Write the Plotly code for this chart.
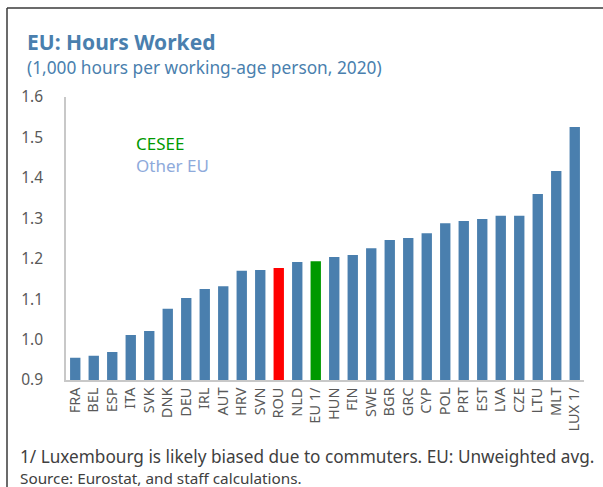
import plotly.graph_objects as go

countries = ["FRA", "BEL", "ESP", "ITA", "SVK", "DNK", "DEU", "IRL", "AUT", "HRV",
             "SVN", "ROU", "NLD", "EU 1/", "HUN", "FIN", "SWE", "BGR", "GRC", "CYP",
             "POL", "PRT", "EST", "LVA", "CZE", "LTU", "MLT", "LUX 1/"]
hours = [0.955, 0.960, 0.969, 1.011, 1.021, 1.076, 1.103, 1.125, 1.132, 1.170,
         1.172, 1.177, 1.192, 1.194, 1.204, 1.209, 1.226, 1.246, 1.251, 1.263,
         1.288, 1.293, 1.298, 1.306, 1.306, 1.360, 1.417, 1.526]
y_ticks = [0.9, 1.0, 1.1, 1.2, 1.3, 1.4, 1.5, 1.6]

BLUE = "#4a7fae"
colors = [BLUE] * len(countries)
colors[countries.index("ROU")] = "#ff0000"
colors[countries.index("EU 1/")] = "#009900"

W, H = 603, 487
L, R, T, B = 66, 584, 97, 380

def px(x):
    return (x - L) / (R - L)

def py(y):
    return (B - y) / (B - T)

FONT = "Noto Sans"

fig = go.Figure(go.Bar(x=countries, y=hours, marker=dict(color=colors, line=dict(width=0)),
                       width=0.56))

fig.update_layout(
    width=W, height=H,
    margin=dict(l=L, r=W - R, t=T, b=H - B, pad=0),
    paper_bgcolor="white", plot_bgcolor="white",
    font=dict(family=FONT, color="#595959", size=14),
    showlegend=False,
    bargap=0.44,
)
fig.update_yaxes(range=[0.9, 1.6], tickvals=y_ticks, ticktext=[f"{v:.1f}" for v in y_ticks],
                 showgrid=False, zeroline=False, showline=True, linecolor="#c8c8c8",
                 linewidth=1.5, ticks="", ticklabelstandoff=18,
                 tickfont=dict(size=15.5, color="#595959"))
fig.update_xaxes(showgrid=False, showline=True, linecolor="#c8c8c8", linewidth=1.5,
                 ticks="", tickangle=-90, tickfont=dict(size=14.5, color="#595959"),
                 range=[-0.5, len(countries) - 0.5])

ann = []
def text(x, y, s, size, color, bold=False, anchor="left"):
    ann.append(dict(x=px(x), y=py(y), xref="paper", yref="paper", text=f"<b>{s}</b>" if bold else s,
                    showarrow=False, xanchor=anchor, yanchor="middle",
                    font=dict(family=FONT, size=size, color=color)))

text(25, 42, "EU: Hours Worked", 21, "#4a7fae", bold=True)
text(25, 68, "(1,000 hours per working-age person, 2020)", 17.3, "#4a7fae")
text(134, 143, "CESEE", 17, "#009900")
text(134, 165, "Other EU", 17, "#8eaadb")
text(18, 456, "1/ Luxembourg is likely biased due to commuters. EU: Unweighted avg.", 17.2, "#404040")
text(18, 478, "Source: Eurostat, and staff calculations.", 15.3, "#404040")
fig.update_layout(annotations=ann)

# frame (left and top edges visible)
fig.add_shape(type="line", xref="paper", yref="paper", x0=px(7), x1=px(W + 5), y0=py(8), y1=py(8),
              line=dict(color="#3a3a3a", width=1.5))
fig.add_shape(type="line", xref="paper", yref="paper", x0=px(7), x1=px(7), y0=py(8), y1=py(H + 5),
              line=dict(color="#3a3a3a", width=1.5))

fig.write_html("out.html")
